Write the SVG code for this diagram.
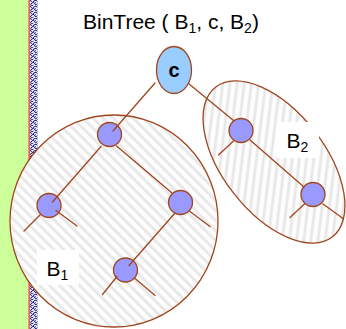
<svg xmlns="http://www.w3.org/2000/svg" width="346" height="329" viewBox="0 0 346 329">
  <defs>
    <linearGradient id="stripeShade" x1="0" y1="0" x2="0" y2="1">
      <stop offset="0" stop-color="#ffffff"/>
      <stop offset="0.2" stop-color="#fcfcfc"/>
      <stop offset="0.5" stop-color="#e1e1e1"/>
      <stop offset="0.8" stop-color="#fcfcfc"/>
      <stop offset="1" stop-color="#ffffff"/>
    </linearGradient>
    <pattern id="hatch" patternUnits="userSpaceOnUse" width="20" height="7.1" patternTransform="rotate(45)">
      <rect width="20" height="7.1" fill="url(#stripeShade)"/>
    </pattern>
    <pattern id="speckle" patternUnits="userSpaceOnUse" width="6" height="6">
      <rect width="6" height="6" fill="#c8c8e8"/>
      <rect x="0" y="0" width="1" height="1" fill="#2b2b8f"/>
      <rect x="2" y="0" width="1" height="1" fill="#ffffff"/>
      <rect x="4" y="0" width="2" height="1" fill="#3a3aa0"/>
      <rect x="1" y="1" width="1" height="1" fill="#4b4bb0"/>
      <rect x="3" y="1" width="1" height="1" fill="#2b2b8f"/>
      <rect x="5" y="1" width="1" height="1" fill="#ffffff"/>
      <rect x="0" y="2" width="1" height="1" fill="#ffffff"/>
      <rect x="2" y="2" width="2" height="1" fill="#30309a"/>
      <rect x="5" y="2" width="1" height="1" fill="#5555b5"/>
      <rect x="1" y="3" width="1" height="1" fill="#2b2b8f"/>
      <rect x="3" y="3" width="1" height="1" fill="#ffffff"/>
      <rect x="4" y="3" width="1" height="1" fill="#2b2b8f"/>
      <rect x="0" y="4" width="1" height="1" fill="#4444aa"/>
      <rect x="2" y="4" width="1" height="1" fill="#ffffff"/>
      <rect x="5" y="4" width="1" height="1" fill="#2b2b8f"/>
      <rect x="1" y="5" width="2" height="1" fill="#3a3aa0"/>
      <rect x="4" y="5" width="1" height="1" fill="#ffffff"/>
    </pattern>
  </defs>
  <style>
    .sub { fill: url(#hatch); stroke: #a0461e; stroke-width: 1.3; }
    .node { fill: #9999ff; stroke: #a0461e; stroke-width: 1.3; }
    .root { fill: #99ccff; stroke: #a0461e; stroke-width: 1.3; }
    .edge { stroke: #a0461e; stroke-width: 1.3; fill: none; stroke-linecap: round; }
    .txt { font-family: "Liberation Sans", Arial, sans-serif; fill: #000; }
    .lblbox { fill: #ffffff; stroke: none; }
  </style>

  <!-- page border strip -->
  <rect x="0" y="0" width="346" height="329" fill="#ffffff"/>
  <rect x="0" y="0" width="28.5" height="329" fill="#ccff99"/>
  <rect x="30" y="0" width="7.5" height="329" fill="url(#speckle)"/>
  <rect x="28.4" y="0" width="1.5" height="329" fill="#e8503a"/>

  <!-- title -->
  <text class="txt" x="83" y="28.5" font-size="21">BinTree ( B<tspan font-size="14" dy="4">1</tspan><tspan dy="-4">, c, B</tspan><tspan font-size="14" dy="4">2</tspan><tspan dy="-4">)</tspan></text>

  <!-- subtree outlines -->
  <g id="B1">
    <ellipse class="sub" cx="114" cy="221" rx="104" ry="106"/>
    <rect class="lblbox" x="37" y="250" width="42" height="35"/>
    <text class="txt" x="46.5" y="276" font-size="21">B<tspan font-size="14" dy="4">1</tspan></text>
  </g>
  <g id="B2">
    <ellipse class="sub" cx="0" cy="0" rx="95" ry="51" transform="translate(274 162) rotate(52)"/>
    <rect class="lblbox" x="277" y="122" width="42" height="36"/>
    <text class="txt" x="286.5" y="148.3" font-size="21">B<tspan font-size="14" dy="4">2</tspan></text>
  </g>

  <!-- tree nodes -->
  <g id="c">
    <ellipse class="root" cx="174" cy="70" rx="17.5" ry="23.5"/>
    <text class="txt" x="174" y="77" font-size="20" font-weight="bold" text-anchor="middle">c</text>
  </g>
  <g id="n1"><circle class="node" cx="109.5" cy="134.5" r="12"/></g>
  <g id="n2"><circle class="node" cx="180.5" cy="202.5" r="12"/></g>
  <g id="n3"><circle class="node" cx="49" cy="205.5" r="12"/></g>
  <g id="n4"><circle class="node" cx="125.5" cy="270" r="12"/></g>
  <g id="n5"><circle class="node" cx="241" cy="130.5" r="12"/></g>
  <g id="n6"><circle class="node" cx="313" cy="194.5" r="12"/></g>

  <!-- connectors -->
  <g id="edges">
    <line class="edge" x1="155" y1="83" x2="113" y2="131"/>
    <line class="edge" x1="188.5" y1="83.5" x2="233.5" y2="120.5"/>
    <line class="edge" x1="101" y1="146.5" x2="52.5" y2="202"/>
    <line class="edge" x1="116.5" y1="146" x2="172" y2="193"/>
    <line class="edge" x1="40" y1="215" x2="24" y2="231"/>
    <line class="edge" x1="56" y1="210.5" x2="77" y2="226"/>
    <line class="edge" x1="175" y1="213" x2="129" y2="265.5"/>
    <line class="edge" x1="190" y1="211.5" x2="210" y2="226.5"/>
    <line class="edge" x1="117" y1="276.5" x2="102.5" y2="294.5"/>
    <line class="edge" x1="134.5" y1="278" x2="155" y2="295.5"/>
    <line class="edge" x1="233.5" y1="141" x2="218.5" y2="155"/>
    <line class="edge" x1="250" y1="140" x2="304" y2="187"/>
    <line class="edge" x1="305" y1="203.5" x2="290" y2="217.5"/>
    <line class="edge" x1="323" y1="204" x2="343" y2="218.5"/>
  </g>
</svg>
